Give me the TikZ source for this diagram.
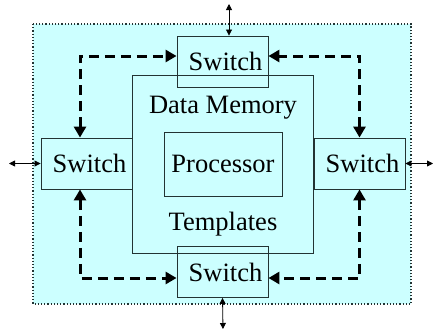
\documentclass[tikz,border=0pt]{standalone}
\usepackage{fontspec}
\setmainfont{Liberation Serif}
\usetikzlibrary{arrows.meta, positioning}
\definecolor{bgcyan}{HTML}{CCFFFF}
\definecolor{boxline}{HTML}{223333}

\begin{document}
\begin{tikzpicture}[x=1pt, y=-1pt, font=\fontsize{26.5}{31}\selectfont,
    swbox/.style={draw=boxline, line width=0.9pt, minimum width=91pt, minimum height=51pt, inner sep=0pt},
    dasharrow/.style={line width=3pt, dash pattern=on 10pt off 6pt, {Triangle[length=11pt,width=12pt]}-{Triangle[length=11pt,width=12pt]}},
    ioarrow/.style={line width=0.8pt, {Triangle[length=6pt,width=6pt]}-{Triangle[length=6pt,width=6pt]}}]
        \useasboundingbox (0,0) rectangle (433,333);
        \draw[fill=bgcyan, draw=boxline, dotted, line width=1.2pt] (33,24) rectangle (411,304);

        \node[draw=boxline, line width=0.9pt, minimum width=181pt, minimum height=178pt] (mem) at (222.5,164) {};
        \node (datamem) at (223,108) {Data Memory};
        \node (templ) at (223,224) {Templates};
        \node[draw=boxline, line width=0.9pt, minimum width=118pt, minimum height=64pt] (proc) at (223,164) {Processor};

        \node[swbox] (topsw) at (222.5,61.5) {\hspace{6pt}Switch};
        \node[swbox] (leftsw) at (86.5,163.5) {\hspace{6pt}Switch};
        \node[swbox] (rightsw) at (359.5,163.5) {\hspace{6pt}Switch};
        \node[swbox] (botsw) at (222.5,272) {\hspace{6pt}Switch};

        \coordinate (topout) at (229,4);
        \coordinate (leftout) at (9,163.5);
        \coordinate (rightout) at (433,163.5);
        \coordinate (botout) at (223,329);

        \draw[dasharrow] ([xshift=-6.5pt]leftsw.north) |- ([yshift=5.5pt]topsw.west);
        \draw[dasharrow] (rightsw.north) |- ([yshift=5.5pt]topsw.east);
        \draw[dasharrow] ([xshift=-6.5pt]leftsw.south) |- ([yshift=-6pt]botsw.west);
        \draw[dasharrow] (rightsw.south) |- ([yshift=-6pt]botsw.east);

        \draw[ioarrow] (topout) -- (topout |- topsw.north);
        \draw[ioarrow] (leftout) -- (leftsw.west);
        \draw[ioarrow] (rightsw.east) -- (rightout);
        \draw[ioarrow] (botsw.south) -- (botout);
    \end{tikzpicture}
\end{document}
